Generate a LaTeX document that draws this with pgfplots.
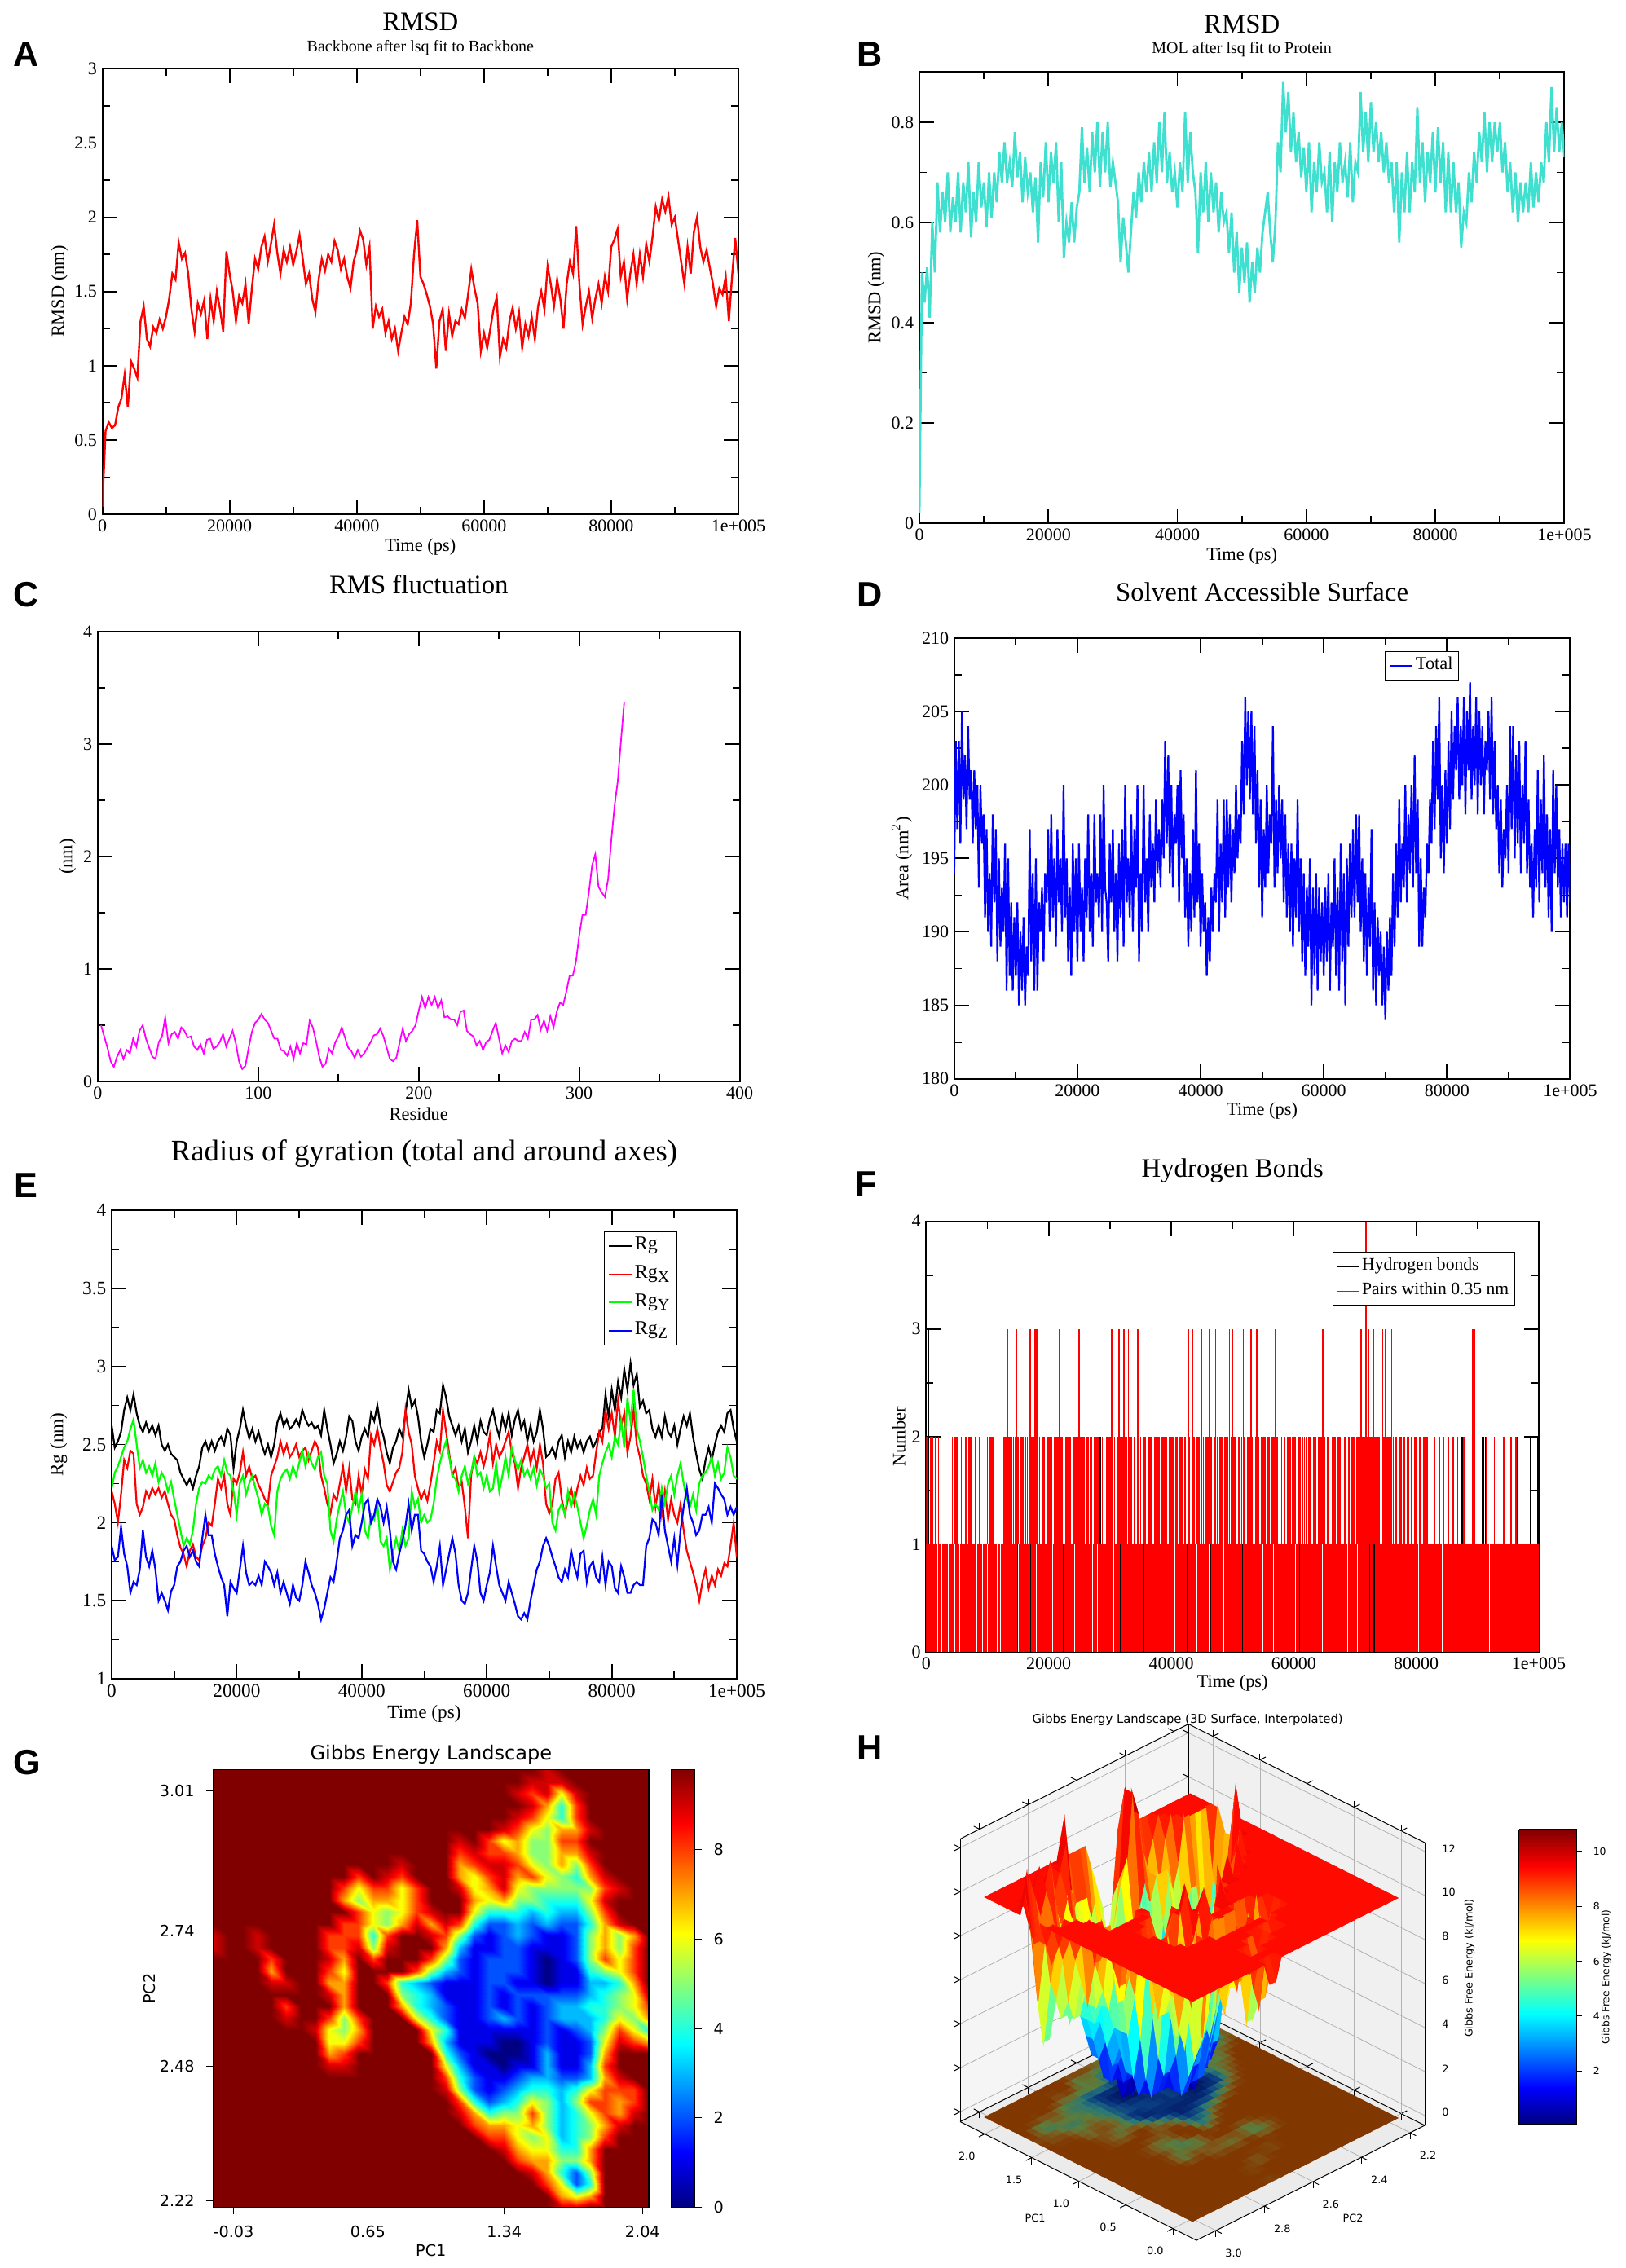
\documentclass[border=0pt]{standalone}
\usepackage{fontspec}
\usepackage{pgfplots}
\pgfplotsset{compat=1.18}
\setmainfont{Liberation Serif}
\newfontfamily\dv{DejaVu Sans}
\newfontfamily\letterfont{Liberation Sans}[BoldFont={Liberation Sans Bold}]
\newcommand\fs[1]{\fontsize{#1}{#1}\selectfont}

% values at equal steps: name, first x, step, list
\newcommand\mkseries[4]{\gdef#1{}\foreach \v [count=\i from 0] in {#4}{\pgfmathsetmacro\xx{#2+\i*#3}\xdef#1{#1 (\xx,\v)}}}
\newcommand\plotdata[2]{\toks0={\addplot[#1] coordinates}\edef\temp{\the\toks0 {#2};}\temp}
\newcommand\plotsurf[2]{\toks0={\addplot3[#1] coordinates}\edef\temp{\the\toks0 {#2};}\temp}

\pgfplotsset{
  every axis title shift=0pt,
  colormap={jetH}{rgb255=(0,0,128) rgb255=(0,0,128) rgb255=(0,0,230) rgb255=(0,60,255) rgb255=(0,170,255) rgb255=(0,255,255) rgb255=(85,255,170) rgb255=(170,255,85) rgb255=(255,255,0) rgb255=(255,160,0) rgb255=(255,60,0) rgb255=(255,10,0) rgb255=(220,0,0) rgb255=(170,0,0) rgb255=(128,0,0) rgb255=(128,0,0)},
  colormap={floorcm}{rgb255=(0,10,90) rgb255=(0,10,90) rgb255=(5,35,110) rgb255=(10,60,130) rgb255=(25,90,125) rgb255=(40,120,120) rgb255=(65,122,90) rgb255=(90,125,60) rgb255=(108,108,45) rgb255=(125,90,30) rgb255=(127,73,15) rgb255=(128,56,0) rgb255=(128,56,0) rgb255=(128,56,0) rgb255=(128,56,0) rgb255=(128,56,0)},
  grace/.style={scale only axis,anchor=south west,tick align=inside,major tick length=4.5pt,minor tick length=2.25pt,
    minor x tick num=1,minor y tick num=1,axis line style={line width=.5pt},tick style={black,line width=.45pt},
    /pgf/number format/assume math mode=true,tick label style={font=\fs{5.5},inner sep=1.5pt},
    label style={font=\fs{5.6}},enlargelimits=false},
  timeaxis/.style={xmin=0,xmax=100,xtick={0,20,40,60,80,100},xticklabels={0,20000,40000,60000,80000,1e+005}},
  lab/.style n args={3}{title style={at={(axis description cs:0.5,#1)},anchor=center,font=\fs{8.2}},
    xlabel style={at={(axis description cs:0.5,#2)},anchor=center},
    ylabel style={at={(axis description cs:#3,0.5)},anchor=center}},
  legend image code/.code={\draw[#1] (1pt,0pt) -- (5.8pt,0pt);\path (0pt,0pt) -- (7pt,0pt);},
  leg/.style={legend cell align=left,legend style={draw=black,line width=.25pt,inner sep=1.2pt,nodes={inner sep=.6pt}}},
  boxH/.style={anchor=origin,at={(429.8pt,50.4pt)},x={(-28.875pt,14.5pt)},y={(-74.5pt,-37.5pt)},z={(0pt,6.75pt)},
    xmin=-0.25,xmax=2.26,ymin=2.14,ymax=3.08,zmin=-0.45,zmax=12.4},
}

\mkseries\dA{0}{0.5}{0.05,.56,.62,.58,.60,.72,.78,.94,.72,1.03,.98,.92,1.30,1.40,1.18,1.13,1.26,1.22,1.31,1.25,1.33,
1.45,1.62,1.58,1.83,1.72,1.76,1.62,1.38,1.23,1.42,1.35,1.44,1.18,1.45,1.30,1.50,1.38,1.23,1.77,1.62,
1.50,1.30,1.47,1.42,1.55,1.28,1.52,1.72,1.65,1.80,1.87,1.70,1.82,1.95,1.76,1.62,1.78,1.70,1.80,1.68,
1.77,1.88,1.72,1.55,1.62,1.45,1.36,1.58,1.72,1.64,1.75,1.70,1.84,1.78,1.65,1.72,1.60,1.52,1.70,1.78,
1.91,1.85,1.68,1.80,1.25,1.40,1.33,1.38,1.22,1.30,1.18,1.25,1.10,1.22,1.33,1.28,1.42,1.75,1.98,1.60,
1.55,1.48,1.40,1.28,.98,1.30,1.38,1.10,1.35,1.20,1.30,1.28,1.38,1.32,1.48,1.65,1.52,1.42,1.10,1.22,
1.12,1.25,1.38,1.46,1.06,1.18,1.12,1.30,1.39,1.25,1.36,1.12,1.28,1.20,1.33,1.18,1.40,1.50,1.38,1.67,
1.55,1.40,1.58,1.45,1.25,1.55,1.70,1.62,1.94,1.55,1.28,1.40,1.50,1.32,1.45,1.55,1.42,1.60,1.50,1.80,
1.85,1.92,1.60,1.70,1.45,1.62,1.75,1.55,1.75,1.60,1.82,1.70,1.87,2.07,1.98,2.12,2.04,2.14,1.95,2.0,
1.85,1.70,1.55,1.80,1.62,1.90,2.0,1.80,1.70,1.78,1.66,1.55,1.40,1.52,1.48,1.60,1.30,1.60,1.86,1.62}

\mkseries\dB{0}{0.4}{.02,.50,.44,.51,.41,.60,.50,.68,.58,.66,
.60,.70,.58,.65,.60,.70,.58,.68,.62,.72,
.57,.66,.60,.72,.63,.68,.59,.70,.61,.70,
.64,.74,.68,.76,.68,.72,.67,.78,.69,.74,
.64,.73,.66,.70,.62,.69,.56,.72,.65,.76,
.64,.74,.68,.76,.60,.72,.53,.60,.56,.64,
.56,.63,.66,.79,.68,.75,.66,.78,.70,.80,
.67,.78,.70,.80,.67,.72,.68,.64,.52,.61,
.56,.50,.58,.66,.61,.70,.64,.72,.66,.74,
.66,.76,.68,.80,.70,.82,.68,.74,.66,.70,
.63,.72,.66,.82,.68,.78,.70,.66,.54,.70,
.62,.72,.60,.70,.62,.68,.58,.66,.60,.62,
.54,.62,.50,.58,.46,.55,.48,.56,.44,.52,
.46,.55,.50,.58,.62,.66,.58,.52,.60,.76,
.70,.88,.78,.86,.74,.82,.72,.78,.69,.75,
.66,.76,.62,.72,.66,.76,.68,.70,.62,.74,
.60,.72,.66,.76,.68,.72,.65,.76,.64,.72,
.70,.86,.74,.82,.72,.84,.74,.80,.72,.78,
.70,.76,.68,.72,.62,.72,.56,.70,.62,.74,
.62,.72,.66,.83,.68,.76,.64,.74,.68,.78,
.66,.79,.68,.76,.62,.74,.62,.72,.62,.68,
.55,.62,.60,.70,.64,.74,.68,.78,.72,.82,
.70,.80,.72,.80,.74,.80,.70,.76,.66,.72,
.62,.70,.60,.68,.62,.68,.62,.72,.63,.70,
.64,.72,.68,.80,.72,.87,.74,.83,.74,.80,.73}

\mkseries\dC{2}{2}{.50,.40,.30,.18,.13,.22,.28,.20,.28,.25,.38,.31,.45,.50,.38,.30,.22,.20,.35,.40,.57,.34,.42,.44,.38,.48,.45,.39,.40,.31,
.28,.33,.25,.37,.38,.29,.31,.35,.42,.31,.38,.45,.34,.18,.11,.14,.30,.44,.52,.55,.60,.55,.52,.45,.38,.38,.28,.27,.23,.31,
.20,.34,.25,.34,.33,.54,.48,.36,.22,.13,.16,.29,.25,.35,.40,.48,.39,.30,.27,.21,.28,.22,.25,.30,.35,.41,.42,.47,.40,.30,
.20,.18,.21,.34,.47,.36,.42,.45,.50,.63,.75,.65,.75,.68,.75,.65,.72,.57,.58,.55,.55,.50,.62,.63,.45,.42,.40,.32,.36,.28,
.35,.37,.45,.52,.38,.25,.32,.26,.36,.38,.36,.36,.44,.38,.55,.55,.59,.46,.54,.45,.58,.48,.62,.70,.68,.80,.94,.94,1.07,1.30,
1.48,1.48,1.68,1.92,2.02,1.73,1.68,1.64,1.80,2.15,2.45,2.67,3.03,3.37}

\mkseries\dD{0}{0.25}{194,203,197,203,196,205,199,202,197,204,199,201,196,201,197,200,193,200,196,198,
191,197,190,194,189,198,192,197,188,195,189,193,190,196,186,195,187,192,186,191,
187,192,185,190,186,191,185,189,187,197,188,194,186,195,186,192,190,193,188,194,
192,197,190,198,191,195,189,197,192,195,190,200,191,195,188,193,187,196,190,195,
188,196,190,193,188,195,191,198,190,194,189,198,192,194,191,198,190,200,193,192,
188,196,192,197,190,194,188,196,191,197,189,200,192,195,191,198,190,197,193,200,
188,194,190,200,192,195,190,198,193,196,192,199,194,197,193,199,195,203,196,202,
194,200,193,198,196,200,192,201,195,198,191,195,189,194,190,197,191,201,192,196,
189,194,190,192,187,191,188,193,190,194,192,199,190,196,192,199,191,199,193,198,
192,197,194,200,195,198,196,203,198,206,200,205,199,205,198,204,196,201,193,199,
191,197,193,200,194,198,196,204,193,199,194,200,195,199,192,198,191,196,190,196,
189,195,191,199,190,195,188,194,187,193,189,195,185,193,187,194,186,193,188,192,
187,193,188,194,186,192,189,195,187,193,186,196,188,194,185,195,189,196,191,197,
191,198,192,198,190,195,188,194,187,193,189,197,186,192,185,191,187,190,185,189,
184,190,186,191,187,194,189,196,191,199,192,196,193,200,192,198,194,200,193,202,
194,199,189,195,189,193,191,196,194,199,196,203,197,204,199,206,195,200,194,201,
196,203,197,205,199,204,201,206,199,204,200,206,198,205,201,207,199,204,200,206,
198,205,200,204,198,203,201,205,199,206,198,203,197,200,194,199,193,197,195,200,
194,204,197,204,195,202,196,203,194,200,196,203,194,199,193,196,191,197,193,201,
192,199,194,202,193,198,191,197,190,201,194,200,193,197,191,196,192,196,191,196,192}

\mkseries\dEk{0}{0.5}{2.62,2.48,2.52,2.58,2.72,2.80,2.72,2.82,2.70,2.62,2.58,2.64,2.58,2.62,2.56,2.62,2.50,2.46,2.50,2.44,
2.42,2.40,2.32,2.28,2.24,2.28,2.22,2.30,2.36,2.48,2.52,2.46,2.52,2.46,2.52,2.55,2.50,2.60,2.56,2.35,
2.52,2.60,2.72,2.62,2.54,2.60,2.52,2.58,2.50,2.44,2.50,2.42,2.50,2.64,2.70,2.62,2.66,2.60,2.62,2.66,
2.62,2.72,2.66,2.62,2.64,2.60,2.62,2.56,2.72,2.60,2.50,2.38,2.44,2.52,2.46,2.55,2.68,2.65,2.52,2.46,
2.55,2.60,2.55,2.70,2.65,2.75,2.62,2.55,2.45,2.38,2.48,2.52,2.60,2.55,2.70,2.85,2.74,2.78,2.68,2.52,
2.42,2.50,2.60,2.58,2.72,2.70,2.88,2.80,2.68,2.62,2.56,2.62,2.52,2.60,2.45,2.52,2.62,2.52,2.65,2.58,
2.56,2.66,2.72,2.62,2.55,2.68,2.60,2.70,2.56,2.66,2.72,2.60,2.65,2.52,2.62,2.52,2.58,2.72,2.60,2.42,
2.44,2.48,2.42,2.52,2.56,2.42,2.52,2.45,2.55,2.48,2.52,2.45,2.52,2.55,2.48,2.52,2.58,2.60,2.82,2.68,
2.85,2.72,2.90,2.80,2.98,2.85,3.02,2.88,2.95,2.74,2.78,2.70,2.72,2.60,2.55,2.62,2.55,2.68,2.58,2.55,
2.62,2.50,2.60,2.68,2.62,2.70,2.55,2.44,2.34,2.28,2.40,2.48,2.40,2.50,2.58,2.62,2.58,2.70,2.72,2.60,2.52}

\mkseries\dEx{0}{0.5}{2.20,2.12,2.00,2.18,2.40,2.35,2.46,2.44,2.12,2.05,2.10,2.20,2.16,2.22,2.18,2.22,2.16,2.20,2.12,2.05,
2.02,1.92,1.84,1.80,1.72,1.82,1.86,1.78,1.76,1.85,1.90,2.00,1.98,2.12,2.28,2.22,2.30,2.12,2.05,2.28,
2.25,2.32,2.45,2.30,2.36,2.28,2.30,2.24,2.20,2.15,2.12,2.30,2.36,2.42,2.52,2.44,2.50,2.42,2.45,2.50,
2.42,2.46,2.48,2.40,2.46,2.52,2.48,2.30,2.22,2.12,2.06,2.18,2.14,2.25,2.36,2.20,2.35,2.15,2.12,2.30,
2.18,2.34,2.28,2.56,2.50,2.60,2.48,2.38,2.24,2.20,2.26,2.32,2.35,2.45,2.72,2.58,2.50,2.30,2.22,2.15,
2.20,2.14,2.25,2.38,2.52,2.46,2.72,2.58,2.44,2.30,2.35,2.22,2.26,2.10,1.90,2.30,2.42,2.38,2.45,2.36,
2.44,2.56,2.38,2.50,2.42,2.46,2.52,2.58,2.45,2.38,2.22,2.35,2.42,2.50,2.38,2.46,2.35,2.50,2.38,2.12,
2.06,2.12,2.28,2.32,2.15,2.05,2.15,2.22,2.12,2.22,2.30,2.24,2.35,2.28,2.30,2.45,2.58,2.52,2.72,2.60,
2.70,2.55,2.78,2.62,2.70,2.45,2.55,2.72,2.50,2.42,2.30,2.25,2.15,2.28,2.10,2.24,2.05,2.20,2.02,2.15,
2.05,2.00,2.12,1.95,1.82,1.75,1.68,1.60,1.50,1.62,1.70,1.58,1.66,1.60,1.70,1.66,1.74,1.72,1.85,2.00,1.78}

\mkseries\dEy{0}{0.5}{2.22,2.32,2.36,2.42,2.48,2.52,2.60,2.66,2.50,2.35,2.40,2.32,2.36,2.30,2.38,2.26,2.32,2.28,2.20,2.26,
2.15,2.05,1.95,1.85,1.90,1.86,1.95,2.12,2.22,2.26,2.25,2.30,2.28,2.34,2.36,2.30,2.40,2.32,2.30,2.20,
2.05,2.25,2.30,2.18,2.25,2.30,2.22,2.15,2.05,2.12,2.10,1.98,1.92,2.20,2.28,2.32,2.34,2.28,2.36,2.30,
2.38,2.46,2.36,2.44,2.38,2.34,2.42,2.45,2.30,2.25,1.95,1.88,2.02,2.12,2.20,2.05,2.00,2.10,2.20,2.08,
2.18,1.95,1.90,2.05,2.02,2.12,1.88,1.85,1.90,1.70,1.80,1.90,1.82,1.95,1.85,1.90,2.20,2.10,2.15,2.00,
2.05,2.00,2.02,2.12,2.28,2.38,2.46,2.52,2.42,2.30,2.28,2.20,2.30,2.36,2.25,2.32,2.42,2.30,2.32,2.22,
2.30,2.20,2.22,2.38,2.20,2.30,2.42,2.30,2.48,2.40,2.34,2.40,2.30,2.34,2.28,2.35,2.24,2.34,2.30,2.22,
2.25,2.00,1.95,2.08,2.12,2.05,2.20,2.10,2.18,2.10,2.00,1.90,1.98,2.08,2.15,2.05,2.30,2.38,2.45,2.50,
2.42,2.55,2.50,2.65,2.48,2.80,2.65,2.85,2.60,2.52,2.42,2.30,2.20,2.08,2.12,2.08,2.22,2.12,2.25,2.30,
2.18,2.30,2.38,2.25,2.15,2.10,2.18,2.08,2.25,2.30,2.32,2.36,2.42,2.30,2.38,2.28,2.32,2.48,2.42,2.30,2.28}

\mkseries\dEz{0}{0.5}{1.85,1.76,1.78,1.97,1.80,1.72,1.55,1.62,1.60,1.70,1.95,1.78,1.72,1.82,1.70,1.50,1.55,1.50,1.44,1.56,
1.60,1.72,1.75,1.82,1.85,1.78,1.82,1.75,1.72,1.90,2.05,1.92,1.92,1.80,1.72,1.65,1.60,1.40,1.62,1.58,
1.55,1.70,1.85,1.68,1.60,1.62,1.60,1.66,1.60,1.75,1.72,1.68,1.60,1.68,1.55,1.62,1.55,1.48,1.60,1.52,
1.50,1.60,1.75,1.68,1.60,1.55,1.48,1.38,1.45,1.55,1.65,1.62,1.75,1.90,1.95,2.05,2.08,1.85,1.92,1.90,
2.00,2.12,2.15,2.00,2.05,2.15,2.10,2.00,2.10,1.95,1.75,1.70,1.80,1.88,1.98,2.12,1.95,2.05,2.05,1.82,
1.80,1.75,1.72,1.62,1.72,1.85,1.60,1.70,1.80,1.90,1.80,1.60,1.50,1.48,1.55,1.70,1.85,1.75,1.55,1.50,
1.60,1.68,1.85,1.72,1.60,1.55,1.50,1.62,1.55,1.48,1.40,1.38,1.42,1.38,1.50,1.60,1.70,1.75,1.85,1.90,
1.85,1.78,1.72,1.65,1.62,1.70,1.65,1.82,1.72,1.65,1.80,1.82,1.62,1.72,1.75,1.65,1.62,1.78,1.60,1.75,
1.72,1.58,1.55,1.72,1.65,1.55,1.55,1.60,1.62,1.60,1.60,1.85,1.90,2.02,2.00,1.92,2.18,1.95,1.85,1.75,
1.90,1.73,1.95,2.10,2.22,2.05,2.00,1.92,1.95,2.05,2.05,2.10,2.00,2.25,2.22,2.18,2.15,2.05,2.10,2.05,2.10}

\mkseries\dF{0}{0.25}{2,2,1,2,2,1,2,1,2,1,1,1,1,1,1,1,1,2,1,2,
2,1,1,2,1,1,2,1,2,2,1,1,2,1,1,2,1,1,1,1,
2,2,2,2,2,1,1,1,1,1,1,2,2,3,2,2,2,2,2,3,
2,1,2,2,1,2,2,1,3,2,2,3,3,2,2,1,2,2,1,2,
2,2,2,1,2,2,2,3,2,2,3,2,2,2,2,1,2,2,2,2,
3,2,2,2,1,2,2,2,2,1,2,2,2,1,1,2,2,1,2,2,
2,3,2,2,1,2,3,2,2,3,2,2,3,2,2,1,2,1,3,1,
2,1,2,2,1,2,2,2,1,2,2,2,2,1,2,2,2,2,1,2,
2,2,1,2,2,1,2,2,1,2,1,3,2,1,3,2,1,2,2,1,
3,2,1,2,2,3,2,1,2,3,2,1,2,2,1,2,2,2,3,2,
3,2,2,1,2,2,2,3,2,1,2,2,3,2,2,2,3,2,1,2,
2,2,1,2,2,1,2,2,3,2,1,2,2,1,2,1,2,2,2,2,
2,2,1,2,2,1,2,2,2,1,2,2,1,2,2,1,2,2,2,3,
2,1,2,2,1,2,2,2,1,2,2,1,1,2,2,1,2,1,2,2,
2,2,2,2,3,2,2,4,2,3,2,2,3,2,2,2,2,2,3,2,
3,2,2,2,3,2,1,2,1,2,2,1,2,1,2,2,1,2,1,2,
2,1,2,2,1,2,2,2,1,2,1,1,2,1,1,2,1,1,2,1,
1,2,1,1,2,1,1,2,1,1,1,2,1,1,1,1,1,3,3,1,
1,1,1,1,1,1,2,1,1,1,1,2,1,1,1,1,1,2,1,1,
1,1,2,1,1,2,1,1,1,1,1,1,1,1,1,1,1,1,1,1,1}

% energy grid shared by panels G and H: one row per PC2 from 3.05 down, columns PC1 from -0.13
\gdef\surfc{}\gdef\floorc{}
\foreach \row [count=\j from 0] in {
{10,10,10,10,10,10,10,10,10,10,10,10,10,10,10,10,10,10,10,10,10,10,10,9,12,10,10,10,10,10,10},
{10,10,10,10,10,10,10,10,10,10,10,10,10,10,10,10,10,10,10,10,10,10,9,9,9,11,10,10,10,10,10},
{10,10,10,10,10,10,10,10,10,10,10,10,10,10,10,10,10,10,10,10,10,9,8,9,6,9,10,10,10,10,10},
{10,10,10,10,10,10,10,10,10,10,10,10,10,10,10,10,10,10,10,10,10,10,9,7,4,8,11,10,10,10,10},
{10,10,10,10,10,10,10,10,10,10,10,10,10,10,10,10,10,10,10,10,10,9,8,6,4,8,10,10,10,10,10},
{10,10,10,10,10,10,10,10,10,10,10,10,10,10,10,10,10,10,10,10,9,8,6,5,7,7,9,10,10,10,10},
{10,10,10,10,10,10,10,10,10,10,10,10,10,10,10,10,10,9,10,8,6,7,5,5,8,8,10,11,10,10,10},
{10,10,10,10,10,10,10,10,10,10,10,10,10,10,10,10,10,8,9,8,8,7,5,5,7,7,9,10,10,10,10},
{10,10,10,10,10,10,10,10,10,10,10,10,10,9,10,10,10,7,8,9,9,8,6,5,7,5,8,11,10,10,10},
{10,10,10,10,10,10,10,10,10,10,8,10,9,8,10,10,10,7,6,8,9,7,8,6,5,4,7,9,10,10,10},
{10,10,10,10,10,10,10,10,10,8,6,8,8,6,8,10,10,9,6,7,9,6,5,5,5,5,5,8,9,10,10},
{10,10,10,10,10,10,10,10,10,7,5,7,7,6,8,10,10,10,7,6,7,5,5,4,4,4,6,9,10,10,10},
{10,10,10,10,10,10,10,10,10,10,8,6,5,6,8,9,10,10,6,4,4,4,3,4,3,3,5,8,11,10,10},
{10,10,10,10,10,10,10,10,10,8,8,6,5,7,9,7,9,8,4,2,2,3,2,3,2,2,4,7,9,12,10},
{9,10,10,9,10,10,10,10,8,8,8,4,8,10,10,9,8,5,2,1,2,3,2,1,1,2,5,7,5,7,10},
{9,10,10,9,10,10,10,10,8,8,9,5,9,11,10,10,7,3,1,1,2,2,1,1,1,2,5,7,5,8,10},
{10,10,10,10,8,10,10,10,9,7,10,8,10,10,11,8,5,2,1,2,2,2,1,0,1,2,5,8,6,8,10},
{10,10,10,10,7,10,10,10,8,6,10,10,11,10,8,5,3,2,1,2,2,2,1,0,1,1,4,5,6,8,10},
{10,10,10,10,9,9,10,10,7,7,10,10,8,4,3,2,1,1,1,2,2,1,1,0,1,1,3,3,4,7,10},
{10,10,10,10,10,10,10,10,9,7,10,10,10,5,4,3,1,1,1,2,1,2,2,2,2,2,3,4,5,6,9},
{10,10,10,10,10,8,10,10,10,7,10,10,11,7,4,3,2,1,1,2,1,2,1,2,3,3,4,4,5,6,8},
{10,10,10,10,10,9,10,10,8,5,8,10,10,10,6,4,2,1,1,2,3,2,1,2,3,3,3,4,6,5,7},
{10,10,10,10,10,10,10,9,6,5,7,10,10,10,11,6,4,1,1,1,1,1,1,2,1,2,3,5,8,6,4},
{10,10,10,10,10,10,10,10,6,6,8,10,10,10,10,7,3,1,1,1,0,0,1,2,1,1,2,6,9,8,7},
{10,10,10,10,10,10,10,10,7,8,10,10,10,10,10,10,4,2,1,0,0,0,1,3,1,1,2,7,12,12,10},
{10,10,10,10,10,10,10,10,9,9,10,10,10,10,10,11,6,3,1,1,0,1,1,3,1,1,3,8,11,11,10},
{10,10,10,10,10,10,10,10,10,10,10,10,10,10,10,10,8,4,2,1,1,2,3,3,2,2,3,7,9,10,10},
{10,10,10,10,10,10,10,10,10,10,10,10,10,10,10,10,9,5,2,1,2,3,4,4,3,4,6,8,8,8,10},
{10,10,10,10,10,10,10,10,10,10,10,10,10,10,10,10,11,8,4,2,3,4,6,5,3,5,8,8,7,8,10},
{10,10,10,10,10,10,10,10,10,10,10,10,10,10,10,10,10,9,7,4,5,5,8,5,3,4,6,8,7,9,10},
{10,10,10,10,10,10,10,10,10,10,10,10,10,10,10,10,10,10,8,7,7,6,7,5,3,4,5,7,9,10,10},
{10,10,10,10,10,10,10,10,10,10,10,10,10,10,10,10,10,10,11,8,8,6,5,6,3,4,5,8,10,10,10},
{10,10,10,10,10,10,10,10,10,10,10,10,10,10,10,10,10,10,10,10,9,7,6,6,4,4,7,10,10,10,10},
{10,10,10,10,10,10,10,10,10,10,10,10,10,10,10,10,10,10,10,10,10,8,7,7,5,5,7,10,10,10,10},
{10,10,10,10,10,10,10,10,10,10,10,10,10,10,10,10,10,10,10,10,10,12,9,7,4,2,5,10,10,10,10},
{10,10,10,10,10,10,10,10,10,10,10,10,10,10,10,10,10,10,10,10,10,10,10,8,6,2,4,10,10,10,10},
{10,10,10,10,10,10,10,10,10,10,10,10,10,10,10,10,10,10,10,10,10,10,10,10,7,6,7,10,10,10,10},
{10,10,10,10,10,10,10,10,10,10,10,10,10,10,10,10,10,10,10,10,10,10,10,10,9,9,10,10,10,10,10}}{
  \pgfmathsetmacro\yy{3.05-\j*0.0228}
  \foreach \v [count=\i from 0] in \row {
    \pgfmathsetmacro\xx{-0.13+\i*0.0733}
    \xdef\surfc{\surfc (\xx,\yy,\v)}
    \xdef\floorc{\floorc (\xx,\yy,0) [\v]}
  }
}

\begin{document}
\begin{tikzpicture}
\path[use as bounding box] (0pt,0pt) rectangle (498.5pt,695.75pt);

\begin{axis}[grace,timeaxis,lab={1.105}{-0.073}{-0.0675},at={(31.4pt,538pt)},width=195.1pt,height=136.65pt,clip mode=individual,
  ymin=0,ymax=3,ytick={0,0.5,1,1.5,2,2.5,3},title={RMSD},xlabel={Time (ps)},ylabel={RMSD (nm)}]
\plotdata{red,line width=.6pt,no markers}{\dA}
\node[font=\fs{5}] at (axis description cs:0.5,1.048) {Backbone after lsq fit to Backbone};
\end{axis}

\begin{axis}[grace,timeaxis,lab={1.105}{-0.072}{-0.067},at={(282pt,535.25pt)},width=197.85pt,height=138.4pt,clip mode=individual,
  ymin=0,ymax=0.9,ytick={0,0.2,0.4,0.6,0.8},title={RMSD},xlabel={Time (ps)},ylabel={RMSD (nm)}]
\plotdata{color={rgb,255:red,64;green,224;blue,208},line width=.7pt,no markers}{\dB}
\node[font=\fs{5}] at (axis description cs:0.5,1.0495) {MOL after lsq fit to Protein};
\end{axis}

\begin{axis}[grace,lab={1.105}{-0.072}{-0.047},at={(30pt,364pt)},width=196.9pt,height=138pt,
  xmin=0,xmax=400,xtick={0,100,200,300,400},ymin=0,ymax=4,ytick={0,1,2,3,4},title={RMS fluctuation},xlabel={Residue},ylabel={(nm)}]
\plotdata{color={rgb,255:red,255;green,0;blue,255},line width=.45pt,no markers}{\dC}
\end{axis}

\begin{axis}[grace,timeaxis,leg,lab={1.105}{-0.0725}{-0.085},at={(292.7pt,364.8pt)},width=188.9pt,height=135.2pt,
  ymin=180,ymax=210,ytick={180,185,190,195,200,205,210},title={Solvent Accessible Surface},xlabel={Time (ps)},ylabel={Area (nm\textsuperscript{2})},
  legend style={at={(0.699,0.971)},anchor=north west,font=\fs{5.6}}]
\plotdata{blue,line width=.55pt,no markers}{\dD}
\addlegendentry{Total}
\end{axis}

\begin{axis}[grace,timeaxis,leg,lab={1.12}{-0.075}{-0.085},at={(34.25pt,180.75pt)},width=191.75pt,height=143.75pt,
  ymin=1,ymax=4,ytick={1,1.5,2,2.5,3,3.5,4},title={Radius of gyration (total and around axes)},xlabel={Time (ps)},ylabel={Rg (nm)},
  title style={font=\fs{9.2}},xlabel style={font=\fs{6.5}},tick label style={font=\fs{5.8}},label style={font=\fs{5.8}},
  legend style={at={(0.7875,0.9555)},anchor=north west,font=\fs{6},row sep=2pt}]
\plotdata{black,line width=.55pt,no markers}{\dEk}
\addlegendentry{Rg}
\plotdata{red,line width=.55pt,no markers}{\dEx}
\addlegendentry{Rg\textsubscript{X}}
\plotdata{green,line width=.55pt,no markers}{\dEy}
\addlegendentry{Rg\textsubscript{Y}}
\plotdata{blue,line width=.55pt,no markers}{\dEz}
\addlegendentry{Rg\textsubscript{Z}}
\end{axis}

\begin{axis}[grace,timeaxis,leg,lab={1.118}{-0.073}{-0.0444},at={(284.1pt,189pt)},width=187.9pt,height=132.1pt,
  ymin=0,ymax=4,ytick={0,1,2,3,4},title={Hydrogen Bonds},xlabel={Time (ps)},ylabel={Number},
  legend style={at={(0.6627,0.929)},anchor=north west,font=\fs{5.4},row sep=1pt}]
\addlegendimage{black,line width=.25pt}
\addlegendentry{Hydrogen bonds}
\addlegendimage{red,line width=.25pt}
\addlegendentry{Pairs within 0.35 nm}
\addplot[ycomb,black,line width=.3pt,no markers,forget plot] coordinates {(0.3,3)(0.45,3)(28.3,2)(28.5,2)(38.7,2)(39.9,2)(41,2)(53,2)(61,2)(62.1,2)(77.6,2)(83,2)(87.5,2)(90.7,2)(91,2)(91.3,2)(93.7,2)(96.3,2)(96.5,2)(98.6,2)(99.8,2)};
\addplot[black,line width=.3pt,no markers,forget plot] coordinates {(98.6,2)(99.8,2)};
\plotdata{ycomb,red,line width=.42pt,no markers,forget plot}{\dF}
\addplot[fill=red,draw=none,no markers,forget plot] coordinates {(0,0)(0,1)(100,1)(100,0)} \closedcycle;
\addplot[ycomb,white,line width=.18pt,no markers,forget plot] coordinates {(1.9,1)(2.5,1)(3.6,1)(4.6,1)(5.5,1)(8.3,1)(9.2,1)(10,1)(11,1)(11.6,1)(12.1,1)(15,1)(17.9,1)(20.6,1)(24.2,1)(27.2,1)(27.9,1)(30.6,1)(40.6,1)(44.1,1)(46.1,1)(48.5,1)(54.9,1)(56.7,1)(60.2,1)(64.6,1)(68.8,1)(70.4,1)(80.3,1)(84.2,1)(91.9,1)(95.1,1)};
\addplot[ycomb,black,line width=.2pt,no markers,forget plot] coordinates {(14.9,1)(17,1)(22.4,1)(31.6,1)(31.8,1)(35.5,1)(42.6,1)(46.4,1)(51.6,1)(52,1)(54.1,1)(60.9,1)(62.1,1)(72.4,1)(73,1)(73.2,1)(88.8,1)};
\end{axis}

\begin{axis}[scale only axis,anchor=south west,at={(65.4pt,18.6pt)},width=133.6pt,height=134.3pt,view={0}{90},
  xmin=-0.1327,xmax=2.0716,ymin=2.2075,ymax=3.051,colormap/jet,point meta min=0,point meta max=9.79,
  xtick={-0.03,0.65,1.34,2.04},xticklabels={-0.03,0.65,1.34,2.04},ytick={2.22,2.48,2.74,3.01},yticklabels={2.22,2.48,2.74,3.01},ztick=\empty,
  tick pos=left,tick align=outside,major tick length=2.2pt,tick style={black,line width=.25pt},axis line style={line width=.3pt},
  tick label style={font=\dv\fs{4.8}},label style={font=\dv\fs{4.8}},title={Gibbs Energy Landscape},
  title style={at={(axis description cs:0.5,1.034)},anchor=center,font=\dv\fs{6}},
  xlabel={PC1},ylabel={PC2},xlabel style={at={(axis description cs:0.5,-0.099)},anchor=center},ylabel style={at={(axis description cs:-0.147,0.5)},anchor=center},axis on top]
\plotsurf{surf,shader=interp,mesh/rows=38,mesh/cols=31}{\surfc}
\end{axis}

\begin{axis}[scale only axis,anchor=south west,at={(206pt,18.6pt)},width=7.15pt,height=134.3pt,view={0}{90},
  xmin=0,xmax=1,ymin=0,ymax=9.79,colormap/jet,point meta min=0,point meta max=9.79,xtick=\empty,ztick=\empty,ytick={0,2,4,6,8},
  /pgf/number format/assume math mode=true,
  ytick pos=right,yticklabel pos=right,tick align=outside,major tick length=2.2pt,tick style={black,line width=.25pt},axis line style={line width=.3pt},
  tick label style={font=\dv\fs{4.8}},axis on top]
\addplot3[surf,shader=interp,mesh/rows=2,mesh/cols=2] coordinates {(0,0,0)(1,0,0)(0,9.79,9.79)(1,9.79,9.79)};
\end{axis}

\begin{axis}[boxH,hide axis]
\addplot3[fill=black!4,draw=none,no markers,forget plot] coordinates {(2.26,2.14,-0.45)(2.26,3.08,-0.45)(2.26,3.08,12.4)(2.26,2.14,12.4)};
\addplot3[fill=black!6,draw=none,no markers,forget plot] coordinates {(2.26,2.14,-0.45)(-0.25,2.14,-0.45)(-0.25,2.14,12.4)(2.26,2.14,12.4)};
\addplot3[fill=black!8,draw=none,no markers,forget plot] coordinates {(2.26,2.14,-0.45)(2.26,3.08,-0.45)(-0.25,3.08,-0.45)(-0.25,2.14,-0.45)};
\end{axis}

\begin{axis}[boxH,xtick={0,0.5,1,1.5,2},xticklabels={0.0,0.5,1.0,1.5,2.0},
  ytick={2.2,2.4,2.6,2.8,3},yticklabels={2.2,2.4,2.6,2.8,3.0},ztick={0,2,4,6,8,10,12},grid=major,grid style={black!30,line width=.2pt},
  tick align=outside,major tick length=2pt,tick style={black,line width=.25pt},axis line style={black,line width=.25pt},
  ztick pos=right,zticklabel pos=right,/pgf/number format/assume math mode=true,
  tick label style={font=\dv\fs{3.2}},point meta min=-1,point meta max=14,colormap name=jetH]
\plotsurf{surf,shader=flat,colormap name=floorcm,point meta=explicit,mesh/rows=38,mesh/cols=31}{\floorc}
\plotsurf{surf,shader=flat,z buffer=sort,mesh/rows=38,mesh/cols=31}{\surfc}
\end{axis}

\node[font=\dv\fs{3.7}] at (364.3pt,168.25pt) {Gibbs Energy Landscape (3D Surface, Interpolated)};
\node[font=\dv\fs{3.2}] at (317.5pt,15.25pt) {PC1};
\node[font=\dv\fs{3.2}] at (415pt,15.25pt) {PC2};
\node[font=\dv\fs{3.2},rotate=90] at (450.75pt,92pt) {Gibbs Free Energy (kJ/mol)};

\begin{axis}[scale only axis,anchor=south west,at={(465.9pt,44pt)},width=17.75pt,height=90.5pt,view={0}{90},
  xmin=0,xmax=1,ymin=0.05,ymax=10.8,colormap/jet,point meta min=0.05,point meta max=10.8,xtick=\empty,ztick=\empty,ytick={2,4,6,8,10},
  /pgf/number format/assume math mode=true,
  ytick pos=right,yticklabel pos=right,tick align=outside,major tick length=1.5pt,tick style={black,line width=.25pt},axis line style={line width=.3pt},
  tick label style={font=\dv\fs{3.1}},label style={font=\dv\fs{3.1}},ylabel={Gibbs Free Energy (kJ/mol)},
  ylabel style={at={(axis description cs:1.513,0.5)},anchor=center},axis on top]
\addplot3[surf,shader=interp,mesh/rows=2,mesh/cols=2] coordinates {(0,0.05,0.05)(1,0.05,0.05)(0,10.8,10.8)(1,10.8,10.8)};
\end{axis}

\node[font=\letterfont\bfseries\fs{10.8}] at (8pt,679pt) {A};
\node[font=\letterfont\bfseries\fs{10.8}] at (266.75pt,679pt) {B};
\node[font=\letterfont\bfseries\fs{10.8}] at (8pt,513.25pt) {C};
\node[font=\letterfont\bfseries\fs{10.8}] at (266.75pt,513.25pt) {D};
\node[font=\letterfont\bfseries\fs{10.8}] at (8pt,332pt) {E};
\node[font=\letterfont\bfseries\fs{10.8}] at (265.75pt,332.6pt) {F};
\node[font=\letterfont\bfseries\fs{10.8}] at (8.25pt,155pt) {G};
\node[font=\letterfont\bfseries\fs{10.8}] at (266.75pt,159.5pt) {H};
\end{tikzpicture}
\end{document}
